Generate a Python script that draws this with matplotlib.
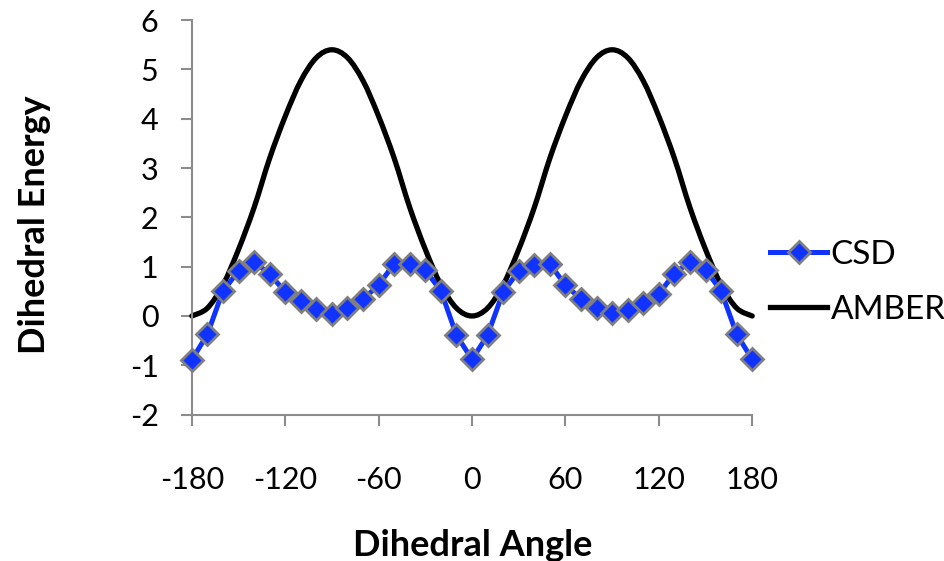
import matplotlib
matplotlib.use('Agg')
from matplotlib import pyplot as plt
from matplotlib.path import Path
from matplotlib.patches import PathPatch
from matplotlib.lines import Line2D

plt.rcParams['font.family'] = ['Lato', 'DejaVu Sans']
plt.rcParams['axes.unicode_minus'] = False

angles = list(range(-180, 181, 10))

csd = [-0.89, -0.37, 0.51, 0.91, 1.10, 0.85, 0.49, 0.30, 0.14, 0.04,
       0.16, 0.34, 0.63, 1.06, 1.05, 0.93, 0.51, -0.39, -0.88,
       -0.39, 0.49, 0.91, 1.04, 1.06, 0.62, 0.35, 0.17, 0.06,
       0.12, 0.27, 0.45, 0.86, 1.10, 0.94, 0.51, -0.37, -0.88]

amber = [0.0, 0.16, 0.63, 1.35, 2.2, 3.2, 4.05, 4.77, 5.24, 5.4,
         5.24, 4.77, 4.05, 3.2, 2.2, 1.35, 0.63, 0.16, 0.0,
         0.16, 0.63, 1.35, 2.2, 3.2, 4.05, 4.77, 5.24, 5.4,
         5.24, 4.77, 4.05, 3.2, 2.2, 1.35, 0.63, 0.16, 0.0]

xticks = [-180, -120, -60, 0, 60, 120, 180]
yticks = [-2, -1, 0, 1, 2, 3, 4, 5, 6]

blue = '#1133ff'
edge = '#7f7f7f'

fig = plt.figure(figsize=(9.45, 5.61), dpi=100)
ax = fig.add_axes([0.203, 0.261, 0.593, 0.703])

# CSD: straight segments with diamond markers
ax.plot(angles, csd, color=blue, lw=3.6, marker='D', markersize=11,
        markerfacecolor=blue, markeredgecolor=edge,
        markeredgewidth=2, zorder=3, clip_on=False)

# AMBER: smoothed line (Excel-style bezier through the points)
pts = list(zip(angles, amber))
verts = [pts[0]]
codes = [Path.MOVETO]
for i in range(len(pts) - 1):
    p0 = pts[i - 1] if i > 0 else pts[i]
    p1 = pts[i]
    p2 = pts[i + 1]
    p3 = pts[i + 2] if i + 2 < len(pts) else pts[i + 1]
    c1 = (p1[0] + (p2[0] - p0[0]) / 6, p1[1] + (p2[1] - p0[1]) / 6)
    c2 = (p2[0] - (p3[0] - p1[0]) / 6, p2[1] - (p3[1] - p1[1]) / 6)
    verts += [c1, c2, p2]
    codes += [Path.CURVE4] * 3
ax.add_patch(PathPatch(Path(verts, codes), facecolor='none',
                       edgecolor='black', lw=3.8, zorder=2,
                       capstyle='round', joinstyle='round', clip_on=False))

ax.set_xlim(-180, 180)
ax.set_ylim(-2, 6)
ax.set_xticks(xticks)
ax.set_yticks(yticks)

for s in ['top', 'right']:
    ax.spines[s].set_visible(False)
for s in ['left', 'bottom']:
    ax.spines[s].set_color('#8c8c8c')
    ax.spines[s].set_linewidth(1.5)
ax.tick_params(colors='#8c8c8c', width=1.5, length=8, direction='out',
               labelcolor='black', labelsize=22)
ax.tick_params(axis='x', pad=29)
ax.tick_params(axis='y', pad=16)

fig.text(0.5, 0.028, 'Dihedral Angle', fontsize=26, fontweight='bold',
         ha='center', va='center')
fig.text(0.037, 0.599, 'Dihedral Energy', fontsize=26, fontweight='bold',
         ha='center', va='center', rotation=90)

handles = [
    Line2D([], [], color=blue, lw=3.6, marker='D', markersize=11,
           markerfacecolor=blue, markeredgecolor=edge,
           markeredgewidth=2),
    Line2D([], [], color='black', lw=3.8),
]
leg = fig.legend(handles, ['CSD', 'AMBER'], loc='center left',
                 bbox_to_anchor=(0.815, 0.497), frameon=False, fontsize=24,
                 handlelength=1.7, handletextpad=0.12, labelspacing=0.75,
                 borderaxespad=0, borderpad=0)

plt.savefig('out.png', dpi=100)
